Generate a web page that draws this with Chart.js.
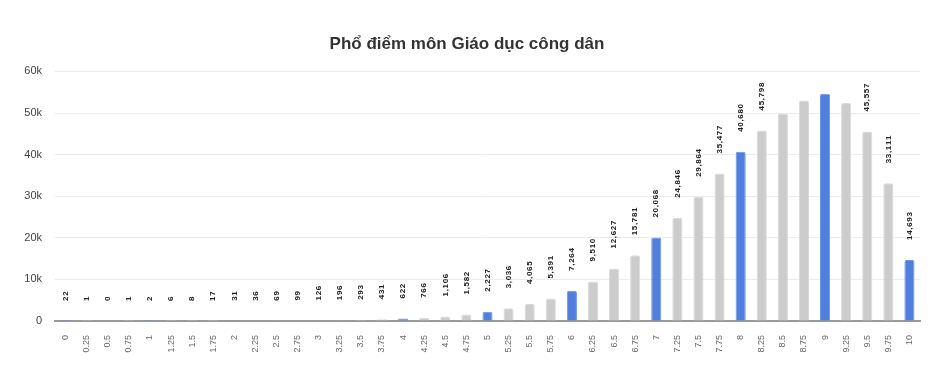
<!DOCTYPE html>
<html><head><meta charset="utf-8">
<script src="https://cdn.jsdelivr.net/npm/chart.js@4"></script>
<style>html,body{margin:0;padding:0;background:#fff}#w{width:949px;height:390px}</style>
</head><body><div id="w"><canvas id="c"></canvas></div>
<script>
const categories = ["0","0.25","0.5","0.75","1","1.25","1.5","1.75","2","2.25","2.5","2.75","3","3.25","3.5","3.75","4","4.25","4.5","4.75","5","5.25","5.5","5.75","6","6.25","6.5","6.75","7","7.25","7.5","7.75","8","8.25","8.5","8.75","9","9.25","9.5","9.75","10"];
const counts = [22,1,0,1,2,6,8,17,31,36,69,99,126,196,293,431,622,766,1106,1582,2227,3036,4065,5391,7264,9510,12627,15781,20068,24846,29864,35477,40680,45798,49900,53000,54600,52400,45557,33111,14693];
const showLabel = categories.map((c,i)=> !["8.5","8.75","9","9.25"].includes(c));
const yTicks = [0,10000,20000,30000,40000,50000,60000];
const blue = "#517fdd", grey = "#cccccc";
const colors = categories.map(c => Number.isInteger(parseFloat(c)) ? blue : grey);

const labelPlugin = {
  id:'vlabels',
  afterDatasetsDraw(chart){
    const ctx = chart.ctx;
    const meta = chart.getDatasetMeta(0);
    ctx.save();
    ctx.font = "bold 8px 'Liberation Sans', Arial, sans-serif";
    ctx.fillStyle = "#222";
    ctx.textAlign = "left";
    ctx.textBaseline = "middle";
    meta.data.forEach((bar,i)=>{
      if(!showLabel[i]) return;
      const txt = counts[i].toLocaleString('en-US');
      ctx.save();
      ctx.translate(bar.x, bar.y - 20);
      ctx.rotate(-Math.PI/2);
      ctx.fillText(txt.split('').join(String.fromCharCode(8202)), 0, 0);
      ctx.restore();
    });
    ctx.restore();
  }
};

new Chart(document.getElementById('c'), {
  type:'bar',
  data:{ labels: categories, datasets:[{ data: counts, backgroundColor: colors, borderColor: colors.map(c=> c===blue ? "#6b93e6" : "#d9d9d9"), borderWidth:1, borderRadius:2, borderSkipped:'bottom', barPercentage:0.48, categoryPercentage:1 }]},
  options:{
    responsive:true, maintainAspectRatio:false, animation:false,
    layout:{ padding:{ left:14, right:29, top:0, bottom:0 } },
    plugins:{
      legend:{display:false}, tooltip:{enabled:false},
      title:{ display:true, text:"Phổ điểm môn Giáo dục công dân", color:"#333", font:{ family:"'Liberation Sans', Arial, sans-serif", size:17, weight:'bold' }, padding:{ top:34, bottom:17 } }
    },
    scales:{
      x:{
        grid:{ display:false, drawTicks:false },
        border:{ display:true, color:"#999", width:2 },
        ticks:{ color:"#666", font:{ family:"'Liberation Sans', Arial, sans-serif", size:9 }, minRotation:90, maxRotation:90, padding:14, autoSkip:false },
        afterFit(s){ s.height = 69; }
      },
      y:{
        min:0, max:60000,
        afterBuildTicks(s){ s.ticks = yTicks.map(v=>({value:v})); },
        grid:{ color:"#ebebeb", drawTicks:false },
        border:{ display:false },
        ticks:{ color:"#444", font:{ family:"'Liberation Sans', Arial, sans-serif", size:11 }, padding:13, callback:v=> v===0 ? "0" : (v/1000)+"k" },
        afterFit(s){ s.width = 41; }
      }
    }
  },
  plugins:[labelPlugin]
});
</script></body></html>
